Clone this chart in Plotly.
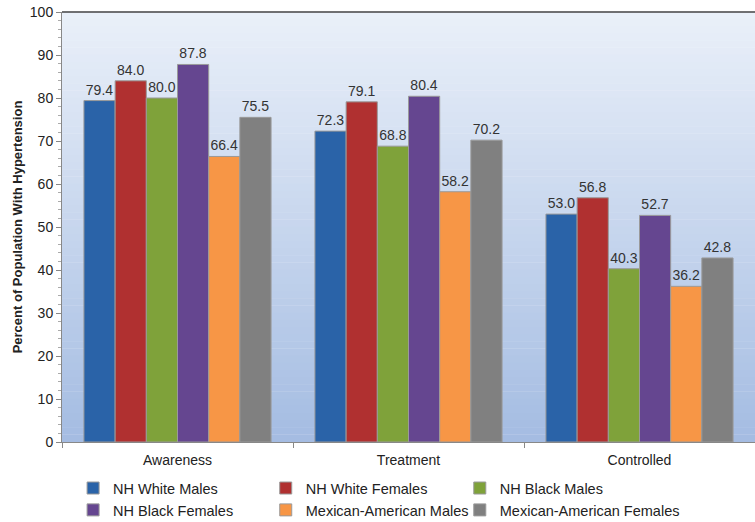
import plotly.graph_objects as go

categories = ["Awareness", "Treatment", "Controlled"]
series_names = ["NH White Males", "NH White Females", "NH Black Males",
                "NH Black Females", "Mexican-American Males", "Mexican-American Females"]
values = {
    "NH White Males": [79.4, 72.3, 53.0],
    "NH White Females": [84.0, 79.1, 56.8],
    "NH Black Males": [80.0, 68.8, 40.3],
    "NH Black Females": [87.8, 80.4, 52.7],
    "Mexican-American Males": [66.4, 58.2, 36.2],
    "Mexican-American Females": [75.5, 70.2, 42.8],
}
colors = ["#2a63a8", "#b03030", "#7fa23a", "#654690", "#f79646", "#808080"]
# legend column for each series (3 columns x 2 rows, row-major as in the reference)
legend_ids = ["legend", "legend2", "legend3", "legend", "legend2", "legend3"]

fig = go.Figure()
for name, c, lg in zip(series_names, colors, legend_ids):
    fig.add_trace(go.Bar(
        x=categories, y=values[name], name=name, legend=lg,
        marker=dict(color=c, line=dict(color="#9a9a9a", width=1)),
        text=[f"{v:.1f}" for v in values[name]], textposition="outside",
        textfont=dict(size=14, color="#333333", family="Liberation Sans, Arial"),
        cliponaxis=False,
    ))

# background gradient
shapes = []
n = 60
top = (234, 240, 249)
bot = (164, 188, 226)
for i in range(n):
    t = (i + 0.5) / n
    col = tuple(int(round(top[k] + (bot[k] - top[k]) * t)) for k in range(3))
    shapes.append(dict(type="rect", xref="paper", yref="paper",
                       x0=0, x1=1, y0=1 - (i + 1) / n, y1=1 - i / n + 0.001,
                       fillcolor=f"rgb{col}", line=dict(width=0), layer="below"))
shapes.append(dict(type="line", xref="paper", yref="paper", x0=0, x1=1, y0=1, y1=1,
                   line=dict(color="#444444", width=1.5)))

leg_common = dict(orientation="v", y=-0.07, xanchor="left", yanchor="top",
                  font=dict(size=14.5, color="#222222"), tracegroupgap=0,
                  bgcolor="rgba(0,0,0,0)")

fig.update_layout(
    width=755, height=522,
    margin=dict(l=62, r=0, t=12, b=80, autoexpand=False),
    paper_bgcolor="white", plot_bgcolor="rgba(0,0,0,0)",
    barmode="group", bargap=0.19, bargroupgap=0,
    font=dict(family="Liberation Sans, Arial", size=13, color="#222222"),
    shapes=shapes,
    showlegend=True,
    legend=dict(x=0.016, **leg_common),
    legend2=dict(x=0.294, **leg_common),
    legend3=dict(x=0.574, **leg_common),
)
fig.update_yaxes(range=[0, 100], dtick=10, showgrid=False, zeroline=False,
                 showline=True, linecolor="#888888", linewidth=1,
                 ticks="outside", ticklen=5, tickcolor="#888888",
                 tickfont=dict(size=14, color="#222222"),
                 minor=dict(dtick=2, ticks="outside", ticklen=3, tickcolor="#aaaaaa"),
                 title=dict(text="<b>Percent of Population With Hypertension</b>",
                            font=dict(size=13, color="#222222"), standoff=4))
fig.update_xaxes(showgrid=False, showline=True, linecolor="#888888", linewidth=1,
                 ticks="outside", tickson="boundaries", ticklen=5, tickcolor="#888888",
                 ticklabelstandoff=5,
                 tickfont=dict(size=14, color="#222222"))

fig.write_html("out.html", config={"displayModeBar": False},
               post_script="document.body.style.margin='0';document.body.style.overflow='hidden';")
